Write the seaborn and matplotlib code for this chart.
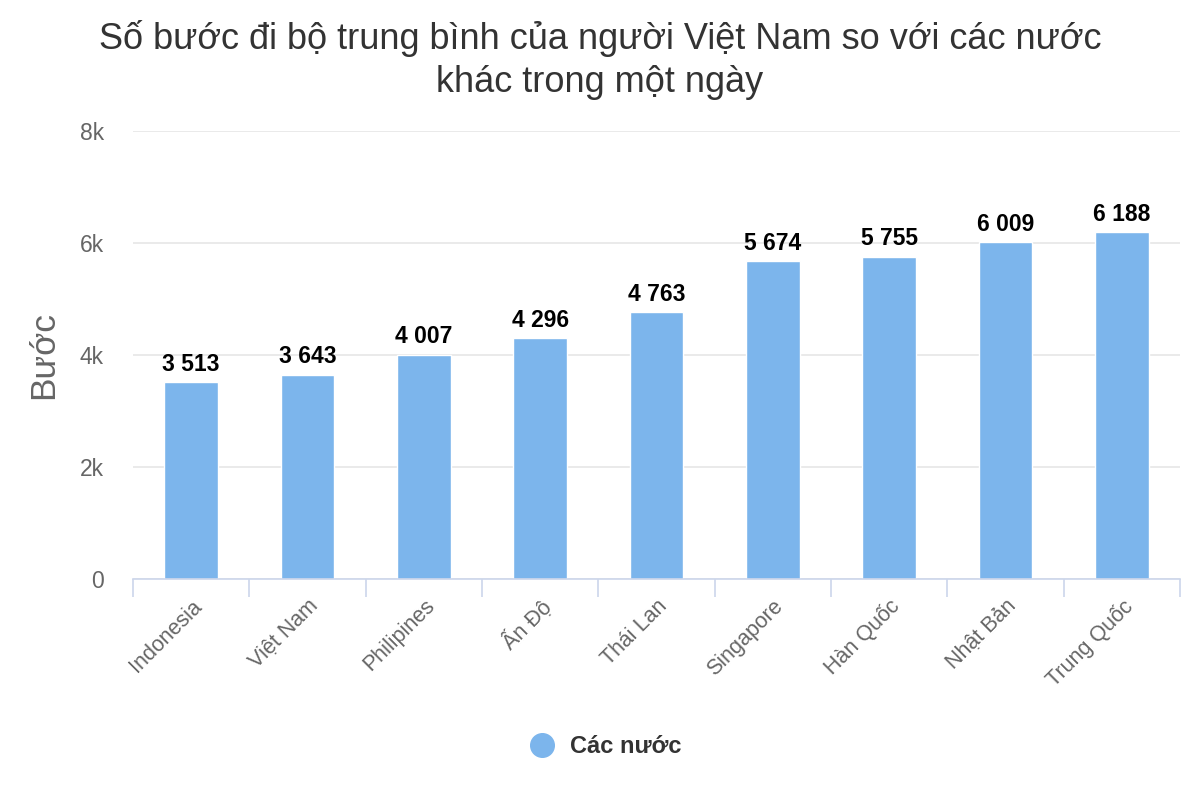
import pandas as pd
import numpy as np
import matplotlib.pyplot as plt
import seaborn as sns
from matplotlib.lines import Line2D

# === Data ===
countries = ["Indonesia", "Việt Nam", "Philipines", "Ấn Độ", "Thái Lan",
             "Singapore", "Hàn Quốc", "Nhật Bản", "Trung Quốc"]
steps = [3513, 3643, 4007, 4296, 4763, 5674, 5755, 6009, 6188]
y_ticks = [0, 2000, 4000, 6000, 8000]
y_tick_labels = ["0", "2k", "4k", "6k", "8k"]

df = pd.DataFrame({"country": countries, "steps": steps})

sns.set_theme(style="white")
plt.rcParams['font.family'] = ['Liberation Sans', 'DejaVu Sans']

bar_color = "#7cb5ec"

fig = plt.figure(figsize=(12, 8), dpi=100)
ax = fig.add_axes([0.1108, 0.27625, 0.8725, 0.56])

sns.barplot(data=df, x="country", y="steps", color=bar_color, width=0.46,
            saturation=1, ax=ax)

ax.set_ylim(0, 8000)
ax.set_xlim(-0.5, len(countries) - 0.5)
ax.set_yticks(y_ticks)
ax.set_yticklabels(y_tick_labels, fontsize=16.5, color="#666666")
ax.yaxis.grid(True, color="#e6e6e6", linewidth=1.2)
ax.set_axisbelow(True)

# Category labels
ax.set_xticks(range(len(countries)))
ax.set_xticklabels(countries, rotation=45, ha="right", rotation_mode="anchor",
                   fontsize=15.5, color="#666666")
ax.tick_params(axis="x", which="major", bottom=True, length=0, pad=12)
ax.tick_params(axis="y", length=0, pad=21)
ax.set_xticks(np.arange(-0.5, len(countries)), minor=True)
ax.tick_params(axis="x", which="minor", bottom=True, length=13,
               color="#ccd6eb", width=1.2)

for side in ["top", "right", "left"]:
    ax.spines[side].set_visible(False)
ax.spines["bottom"].set_color("#ccd6eb")
ax.spines["bottom"].set_linewidth(1.2)

ax.set_xlabel("")
ax.set_ylabel("Bước", fontsize=25.5, color="#666666", labelpad=14)

# Value labels
for i, v in enumerate(steps):
    ax.text(i, v + 120, f"{v:,}".replace(",", " "), ha="center", va="bottom",
            fontsize=16.5, fontweight="bold", color="#000000")

fig.suptitle("Số bước đi bộ trung bình của người Việt Nam so với các nước\nkhác trong một ngày",
             fontsize=26, color="#333333", y=0.975, linespacing=1.3)

handle = Line2D([], [], marker="o", linestyle="", markersize=17,
                markerfacecolor=bar_color, markeredgecolor=bar_color)
fig.legend([handle], ["Các nước"], loc="center", bbox_to_anchor=(0.5, 0.067),
           frameon=False, prop={"size": 17, "weight": "bold"},
           labelcolor="#333333", handletextpad=0.2)

fig.savefig("out.png", dpi=100)
